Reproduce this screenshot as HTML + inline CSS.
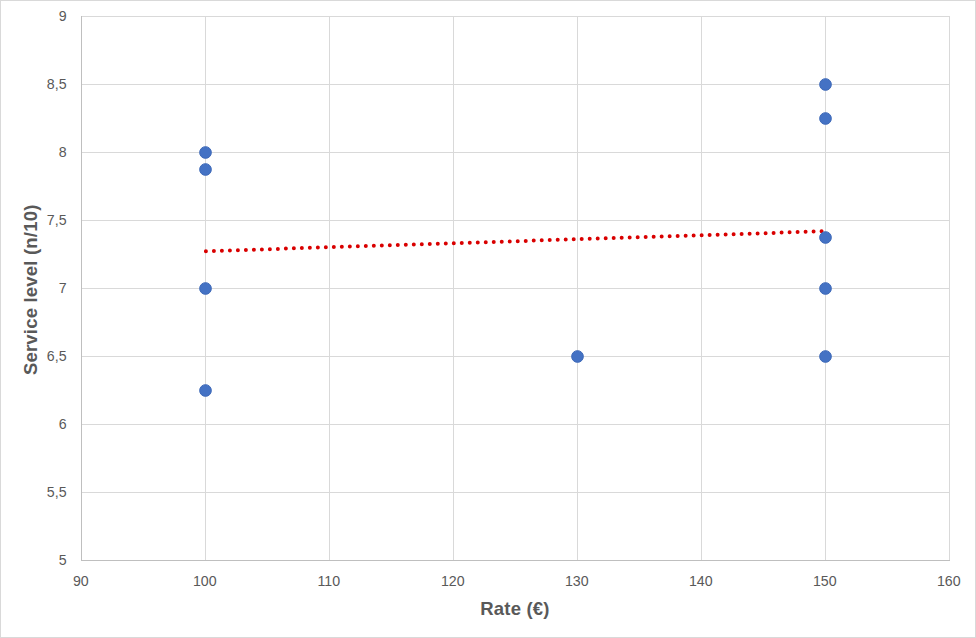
<!DOCTYPE html>
<html>
<head>
<meta charset="utf-8">
<style>
html,body{margin:0;padding:0;background:#fff;}
body{width:976px;height:638px;overflow:hidden;}
svg{display:block;}
.tk{font-family:"Liberation Sans",Arial,sans-serif;font-size:14.2px;fill:#595959;}
.tt{font-family:"Liberation Sans",Arial,sans-serif;font-size:18.5px;font-weight:bold;letter-spacing:0.2px;fill:#595959;}
</style>
</head>
<body>
<svg width="976" height="638" viewBox="0 0 976 638">
<rect x="0" y="0" width="976" height="638" fill="#fff"/>
<rect x="0.5" y="0.5" width="975" height="637" fill="none" stroke="#d9d9d9" stroke-width="1"/>
<g stroke="#d9d9d9" stroke-width="1" fill="none" shape-rendering="crispEdges">
<path d="M81 16.5H949.5M81 84.5H949.5M81 152.5H949.5M81 220.5H949.5M81 288.5H949.5M81 356.5H949.5M81 424.5H949.5M81 492.5H949.5"/>
<path d="M205.5 16V560M329.5 16V560M453.5 16V560M577.5 16V560M701.5 16V560M825.5 16V560M949.5 16V560"/>
</g>
<g stroke="#bfbfbf" stroke-width="1" fill="none" shape-rendering="crispEdges">
<path d="M81.5 16V561M81 560.5H950"/>
</g>
<path d="M205.9 251.2L825.5 231.2" stroke="#d90000" stroke-width="4" stroke-linecap="round" stroke-dasharray="0 8" fill="none"/>
<g fill="#4472c4" stroke="#3e69b8" stroke-width="1">
<circle cx="205.5" cy="152.5" r="5.85"/>
<circle cx="205.5" cy="169.5" r="5.85"/>
<circle cx="205.5" cy="288.5" r="5.85"/>
<circle cx="205.5" cy="390.5" r="5.85"/>
<circle cx="577.5" cy="356.5" r="5.85"/>
<circle cx="825.5" cy="84.5" r="5.85"/>
<circle cx="825.5" cy="118.5" r="5.85"/>
<circle cx="825.5" cy="237.5" r="5.85"/>
<circle cx="825.5" cy="288.5" r="5.85"/>
<circle cx="825.5" cy="356.5" r="5.85"/>
</g>
<g class="tk" text-anchor="end">
<text x="66.6" y="20.8">9</text>
<text x="66.6" y="88.8">8,5</text>
<text x="66.6" y="156.8">8</text>
<text x="66.6" y="224.8">7,5</text>
<text x="66.6" y="292.8">7</text>
<text x="66.6" y="360.8">6,5</text>
<text x="66.6" y="428.8">6</text>
<text x="66.6" y="496.8">5,5</text>
<text x="66.6" y="564.8">5</text>
</g>
<g class="tk" text-anchor="middle">
<text x="80.8" y="586">90</text>
<text x="204.8" y="586">100</text>
<text x="328.8" y="586">110</text>
<text x="452.8" y="586">120</text>
<text x="576.8" y="586">130</text>
<text x="700.8" y="586">140</text>
<text x="824.8" y="586">150</text>
<text x="948.8" y="586">160</text>
</g>
<text class="tt" x="515" y="615" text-anchor="middle">Rate (€)</text>
<text class="tt" transform="translate(36.6 289.8) rotate(-90)" x="0" y="0" text-anchor="middle">Service level (n/10)</text>
</svg>
</body>
</html>
